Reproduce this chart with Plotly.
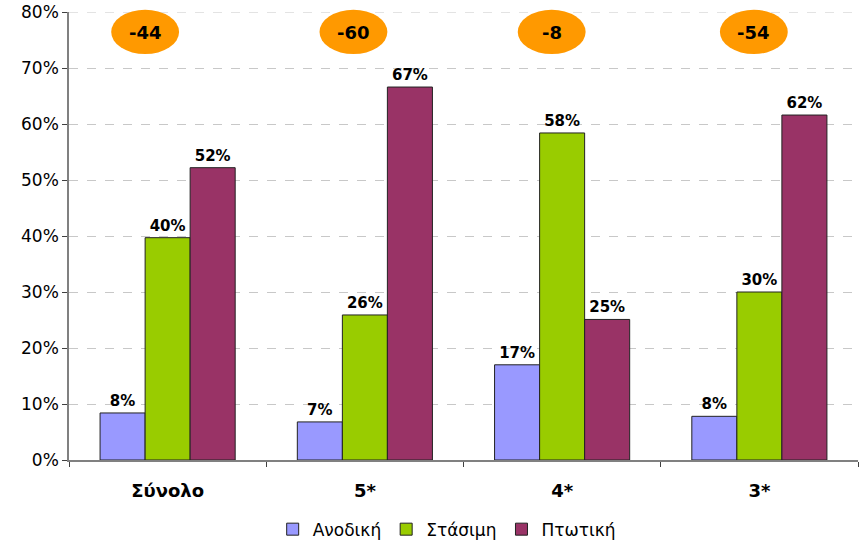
import plotly.graph_objects as go

# =========================================
# DATA
# =========================================
CATEGORIES = ["Σύνολο", "5*", "4*", "3*"]
ANODIKI = [8.4, 6.8, 17.0, 7.8]
STASIMI = [39.7, 25.9, 58.4, 30.0]
PTOTIKI = [52.2, 66.6, 25.1, 61.6]
BALANCE = ["-44", "-60", "-8", "-54"]
BALANCE_X = [-0.114, 0.942, 1.947, 2.972]

SERIES = [
    ("Ανοδική", ANODIKI, "#9999ff"),
    ("Στάσιμη", STASIMI, "#99cc00"),
    ("Πτωτική", PTOTIKI, "#993366"),
]

FONT_FAMILY = "DejaVu Sans"
GRID_COLOR = "#c8c8c8"


# =========================================
# BARS
# =========================================
fig = go.Figure()

for name, values, color in SERIES:
    fig.add_trace(go.Bar(
        name=name,
        x=CATEGORIES,
        y=values,
        marker=dict(color=color, line=dict(color="#222222", width=1)),
        text=[f"{round(v)}%" for v in values],
        textposition="outside",
        textfont=dict(family=FONT_FAMILY, size=15, color="black", weight="bold"),
        cliponaxis=False
    ))

# top gridline (plotly drops the one sitting on the plot edge)
fig.add_shape(
    type="line",
    xref="paper", yref="y",
    x0=0, x1=1, y0=80, y1=80,
    line=dict(color=GRID_COLOR, width=1, dash="dash"),
    layer="below"
)

# =========================================
# BALANCE ELLIPSES
# =========================================
for label, cx in zip(BALANCE, BALANCE_X):
    fig.add_shape(
        type="circle",
        xref="x", yref="paper",
        x0=cx - 0.172, x1=cx + 0.172,
        y0=0.906, y1=1.005,
        fillcolor="#ff9900",
        line=dict(width=0),
        layer="above"
    )
    fig.add_annotation(
        x=cx, y=76.4,
        xref="x", yref="y",
        text=f"<b>{label}</b>",
        showarrow=False,
        font=dict(family=FONT_FAMILY, size=18, color="black")
    )

fig.update_layout(
    width=859,
    height=546,
    paper_bgcolor="white",
    plot_bgcolor="white",
    font=dict(family=FONT_FAMILY, color="black"),
    barmode="group",
    bargap=0.315,
    bargroupgap=0,
    margin=dict(l=69, r=1, t=12, b=86, autoexpand=False),
    showlegend=True,
    legend=dict(
        orientation="h",
        x=0.52, y=0.03,
        xref="container", yref="container",
        xanchor="center", yanchor="middle",
        font=dict(family=FONT_FAMILY, size=17),
        itemwidth=30,
        traceorder="normal"
    )
)

fig.update_xaxes(
    range=[-0.5, 3.5],
    automargin=False,
    showline=True,
    linecolor="#808080",
    linewidth=1.5,
    ticks="outside",
    tickson="boundaries",
    ticklen=5,
    tickcolor="#404040",
    ticklabelstandoff=14,
    tickfont=dict(family=FONT_FAMILY, size=18, color="black", weight="bold"),
    showgrid=False
)

fig.update_yaxes(
    range=[0, 80],
    dtick=10,
    ticksuffix="%",
    automargin=False,
    showline=True,
    linecolor="#808080",
    linewidth=1.5,
    ticks="outside",
    ticklen=5,
    tickcolor="#404040",
    tickfont=dict(family=FONT_FAMILY, size=17, color="black"),
    showgrid=True,
    gridcolor=GRID_COLOR,
    griddash="dash",
    zeroline=False
)

# page has a default body margin; drop it so the figure fills the window
fig.write_html(
    "out.html",
    config={"displayModeBar": False},
    post_script="document.body.style.margin='0'; document.body.style.overflow='hidden';"
)
